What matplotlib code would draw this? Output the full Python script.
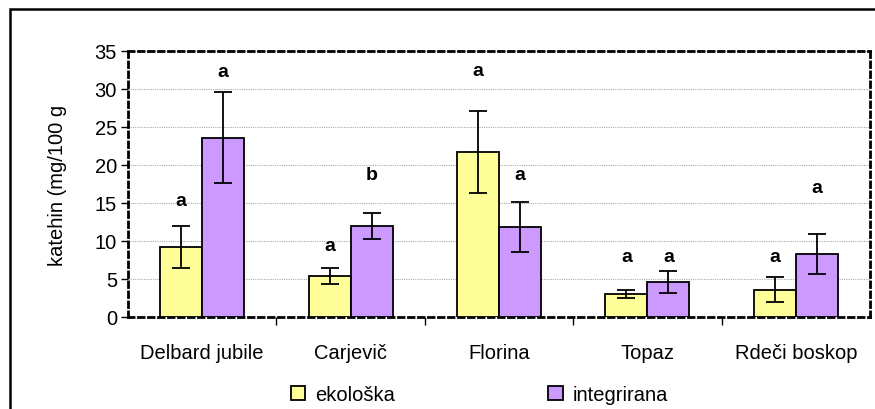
import numpy as np
import matplotlib.pyplot as plt
from matplotlib.patches import Rectangle

plt.rcParams['font.family'] = ['Liberation Sans', 'DejaVu Sans']

# sorte in rezultati (povprečje +- SD)
sorte = ['Delbard jubile', 'Carjevič', 'Florina', 'Topaz', 'Rdeči boskop']
ekoloska = [9.2, 5.4, 21.7, 3.0, 3.6]
ekoloska_sd = [2.8, 1.1, 5.4, 0.5, 1.6]
integrirana = [23.6, 12.0, 11.8, 4.6, 8.3]
integrirana_sd = [6.0, 1.7, 3.3, 1.4, 2.6]

# oznake statistične značilnosti in njihova višina (mg/100 g)
crke_eko = ['a', 'a', 'a', 'a', 'a']
crke_int = ['a', 'b', 'a', 'a', 'a']
visina_eko = [15.3, 9.4, 32.4, 7.9, 7.9]
visina_int = [32.3, 18.7, 18.7, 7.9, 17.1]

fig = plt.figure(figsize=(8.75, 4.1), dpi=100)
ax = fig.add_axes([0.1463, 0.2244, 0.848, 0.6488])

# okvir grafikona
fig.patches.append(Rectangle((10 / 875, -0.1), 1.2, 1 - 10 / 410 + 0.1,
                             transform=fig.transFigure, fill=False,
                             edgecolor='black', linewidth=1.8))

x = np.arange(len(sorte))
w = 0.283
ax.bar(x - w / 2, ekoloska, w, color='#FFFF99', edgecolor='black',
       linewidth=1.3, label='ekološka', zorder=3)
ax.bar(x + w / 2, integrirana, w, color='#CC99FF', edgecolor='black',
       linewidth=1.3, label='integrirana', zorder=3)
ax.errorbar(x - w / 2, ekoloska, yerr=ekoloska_sd, fmt='none', ecolor='black',
            elinewidth=1.3, capsize=6.5, capthick=1.3, zorder=4)
ax.errorbar(x + w / 2, integrirana, yerr=integrirana_sd, fmt='none', ecolor='black',
            elinewidth=1.3, capsize=6.5, capthick=1.3, zorder=4)

for i in range(len(sorte)):
    ax.text(x[i] - w / 2, visina_eko[i], crke_eko[i], ha='center', va='center',
            fontsize=14, fontweight='bold')
    ax.text(x[i] + w / 2, visina_int[i], crke_int[i], ha='center', va='center',
            fontsize=14, fontweight='bold')

ax.set_xlim(-0.5, len(sorte) - 0.5)
ax.set_ylim(0, 35)
ax.set_yticks(np.arange(0, 36, 5))
ax.yaxis.grid(True, color='#aaaaaa', linestyle=(0, (1, 1)), linewidth=0.8, zorder=0)
ax.set_axisbelow(True)

ax.set_xticks(x)
ax.set_xticklabels(sorte)
ax.set_xticks(np.arange(0.5, len(sorte) - 0.5, 1), minor=True)
ax.tick_params(axis='x', which='major', length=0, pad=19, labelsize=14.5)
ax.tick_params(axis='x', which='minor', length=6, width=1, direction='out')
ax.tick_params(axis='y', length=5, width=1, labelsize=14.5, pad=3)

for s in ax.spines.values():
    s.set_linestyle((0, (2, 1.6)))
    s.set_linewidth(2)
    s.set_color('black')

ax.set_ylabel('katehin (mg/100 g', fontsize=14.5, labelpad=20)

ax.legend(loc='center', bbox_to_anchor=(0.474, -0.29), ncol=2, frameon=False,
          fontsize=14.5, handlelength=0.7, handleheight=0.7, columnspacing=7.6,
          handletextpad=0.5)

fig.savefig('out.png', dpi=100)
